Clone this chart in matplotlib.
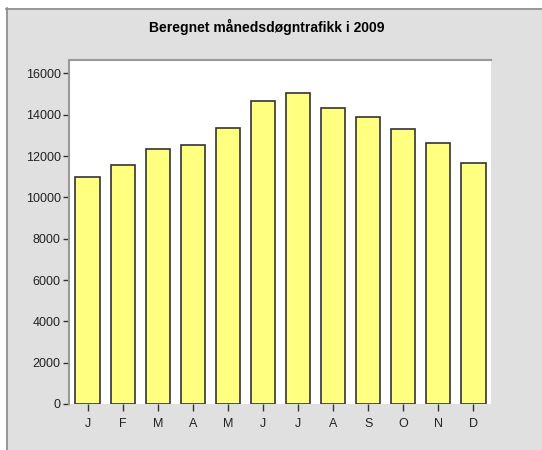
import matplotlib.pyplot as plt
from matplotlib.patches import Rectangle
from matplotlib.lines import Line2D

months = ["J", "F", "M", "A", "M", "J", "J", "A", "S", "O", "N", "D"]
traffic = [11010, 11560, 12350, 12530, 13360, 14650, 15030, 14350, 13870, 13310, 12650, 11660]
yticks = [0, 2000, 4000, 6000, 8000, 10000, 12000, 14000, 16000]

plt.rcParams['font.family'] = ['Liberation Sans', 'DejaVu Sans']

W, H = 542, 450
fig = plt.figure(figsize=(W / 100, H / 100), dpi=100, facecolor='white')

# grey chart panel with a darker edge on top and left
fig.patches.append(Rectangle((6 / W, 0), 1, 1 - 8 / H, transform=fig.transFigure,
                             facecolor='#e0e0e0', edgecolor='none', zorder=-2))
fig.lines.append(Line2D([6.5 / W, 6.5 / W], [0, 1 - 8 / H], transform=fig.transFigure,
                        color='#8a8a8a', lw=1.2, zorder=-1))
fig.lines.append(Line2D([6 / W, 1], [1 - 8.5 / H, 1 - 8.5 / H], transform=fig.transFigure,
                        color='#8a8a8a', lw=1.2, zorder=-1))

ax = fig.add_axes([69 / W, 46 / H, (491 - 69) / W, (404 - 60) / H])
ax.set_facecolor('white')
x = range(len(months))
ax.bar(x, traffic, width=0.69, color='#ffff80', edgecolor='#333333', linewidth=1.2)

ax.set_xlim(-0.53, 11.5)
ax.set_ylim(0, 16650)
ax.set_yticks(yticks)
ax.set_yticklabels([str(v) for v in yticks])
ax.set_xticks(list(x))
ax.set_xticklabels(months)

for s in ['right', 'bottom']:
    ax.spines[s].set_visible(False)
for s in ['left', 'top']:
    ax.spines[s].set_color('#999999')
    ax.spines[s].set_linewidth(1.5)

ax.tick_params(axis='y', length=4, width=1, color='#333333', pad=2,
               labelsize=9, labelcolor='#222222')
ax.tick_params(axis='x', length=5, width=1, color='#333333', pad=5,
               labelsize=9, labelcolor='#222222')

fig.text(266.5 / W, 1 - 27 / H, "Beregnet månedsdøgntrafikk i 2009",
         ha='center', va='center', fontsize=10, fontweight='bold')

fig.savefig('out.png', dpi=100, facecolor='white')
